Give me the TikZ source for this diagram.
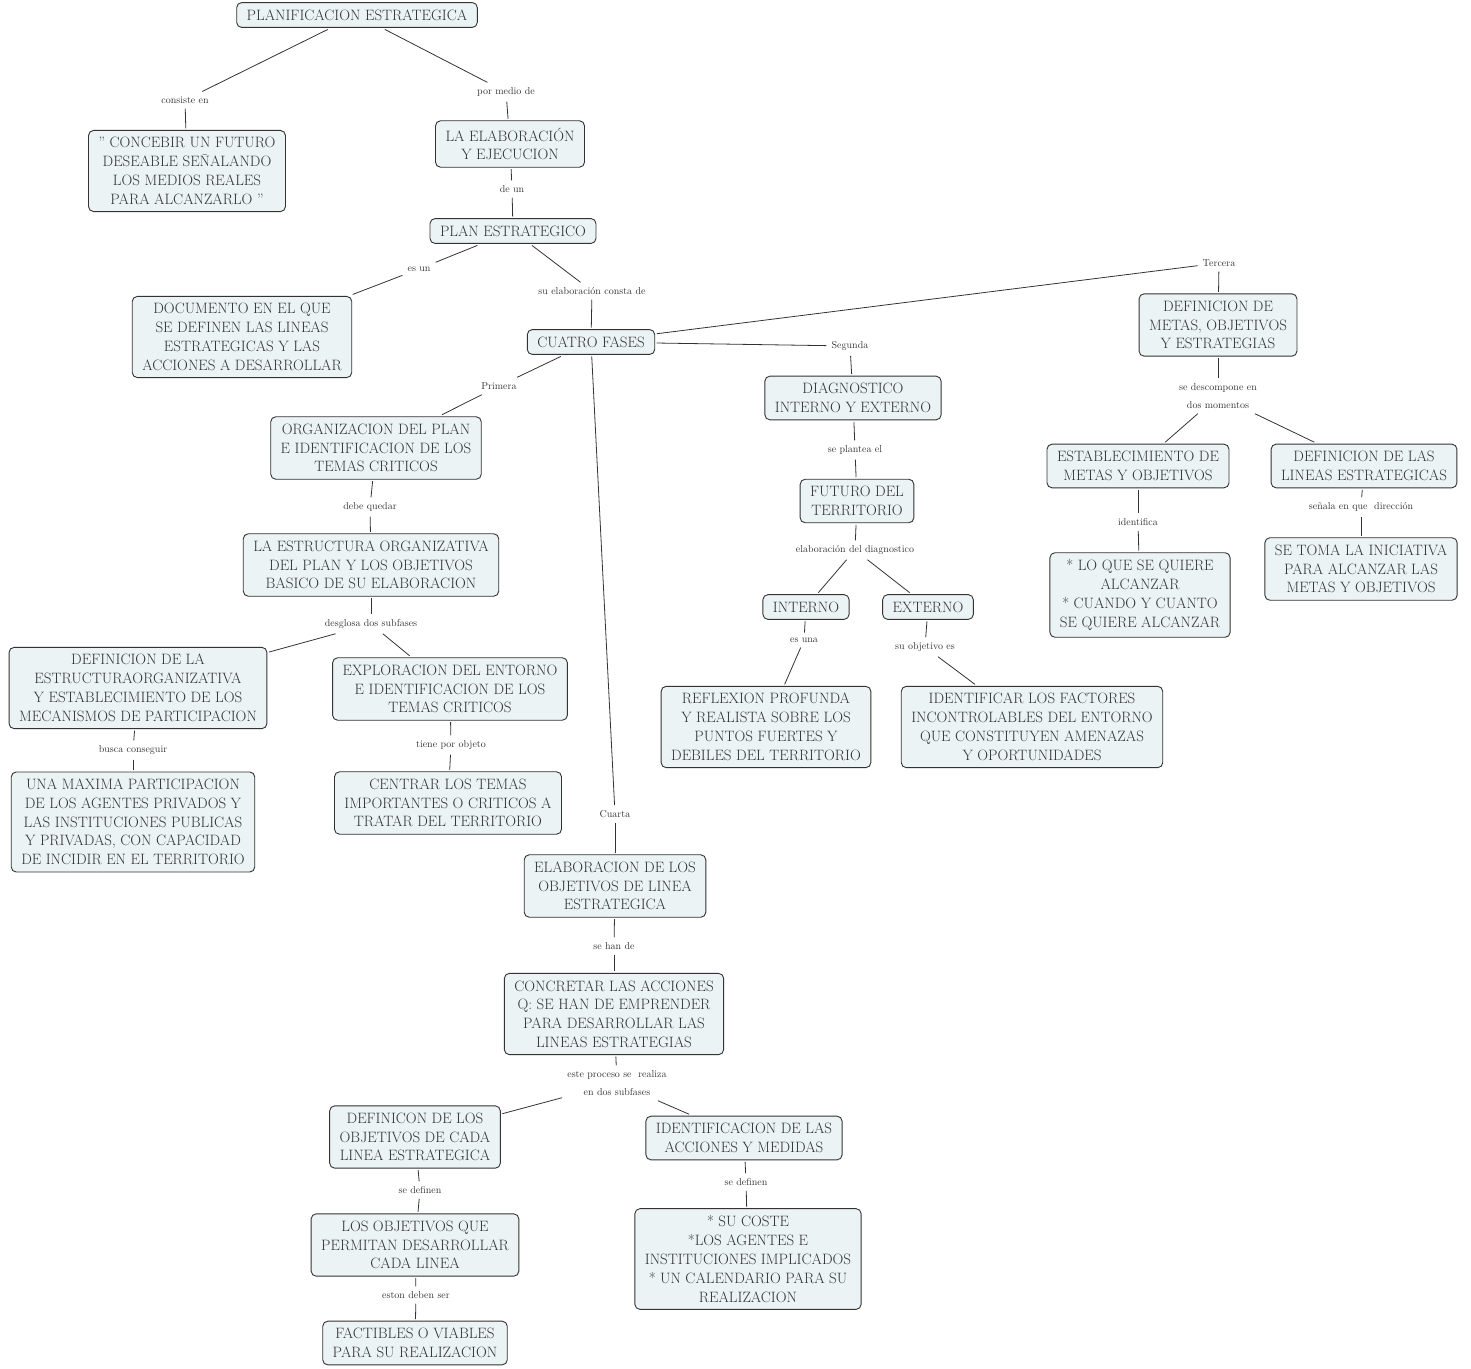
\documentclass[tikz,border=0pt]{standalone}
\usepackage{xcolor}
\definecolor{boxfill}{HTML}{ECF3F5}
\definecolor{ink}{HTML}{333333}
\begin{document}
\begin{tikzpicture}[x=1pt,y=-1pt,
    concept/.style={draw=ink, fill=boxfill, rounded corners=5pt, line width=0.9pt,
      align=center, text=ink, font=\fontsize{15}{18.8}\selectfont,
      inner xsep=10pt, inner ysep=7pt, outer sep=2pt},
    linkword/.style={text=ink, font=\fontsize{10}{18}\selectfont, align=center, inner sep=5pt},
    link/.style={draw=ink, line width=0.8pt}]
  \useasboundingbox (0,0) rectangle (1471,1368);
  % Top
  \node[concept] (pe) at (357,15) {PLANIFICACION ESTRATEGICA};
  \node[linkword] (lcons) at (185,100) {consiste en};
  \node[concept] (concebir) at (187,171) {" CONCEBIR UN FUTURO\\DESEABLE SEÑALANDO\\LOS MEDIOS REALES\\PARA ALCANZARLO "};
  \node[linkword] (lmedio) at (506,92) {por\ medio de};
  \node[concept] (elab) at (510,144) {LA ELABORACIÓN\\Y EJECUCION};
  \node[linkword] (ldeun) at (512,189) {de un};
  \node[concept] (plan) at (513,231) {PLAN ESTRATEGICO};
  \node[linkword] (lesun) at (419,269) {es un};
  \node[concept] (doc) at (242,337) {DOCUMENTO EN EL QUE\\SE DEFINEN LAS LINEAS\\ESTRATEGICAS Y LAS\\ACCIONES A DESARROLLAR};
  \node[linkword] (lconsta) at (592,291) {su elaboración consta de};
  \node[concept] (cuatro) at (591,342) {CUATRO FASES};
  % Primera fase
  \node[linkword] (lprim) at (499,386) {Primera};
  \node[concept] (org) at (376,448) {ORGANIZACION DEL PLAN\\E IDENTIFICACION DE LOS\\TEMAS CRITICOS};
  \node[linkword] (lquedar) at (370,507) {debe quedar};
  \node[concept] (estr) at (371,565) {LA ESTRUCTURA ORGANIZATIVA\\DEL PLAN Y LOS OBJETIVOS\\BASICO DE SU ELABORACION};
  \node[linkword] (ldesgl) at (371,624) {desglosa dos subfases};
  \node[concept] (defest) at (138,688) {DEFINICION DE LA\\ESTRUCTURAORGANIZATIVA\\Y ESTABLECIMIENTO DE LOS\\MECANISMOS DE PARTICIPACION};
  \node[concept] (explor) at (450,689) {EXPLORACION DEL ENTORNO\\E IDENTIFICACION DE LOS\\TEMAS CRITICOS};
  \node[linkword] (lbusca) at (133,750) {busca conseguir};
  \node[concept] (maxima) at (133,822) {UNA MAXIMA PARTICIPACION\\DE LOS AGENTES PRIVADOS Y\\LAS INSTITUCIONES PUBLICAS\\Y PRIVADAS, CON CAPACIDAD\\DE INCIDIR EN EL TERRITORIO};
  \node[linkword] (ltiene) at (451,745) {tiene por objeto};
  \node[concept] (centrar) at (448,803) {CENTRAR LOS TEMAS\\IMPORTANTES O CRITICOS A\\TRATAR DEL TERRITORIO};
  % Segunda fase
  \node[linkword] (lseg) at (850,346) {Segunda};
  \node[concept] (diag) at (853,398) {DIAGNOSTICO\\INTERNO Y EXTERNO};
  \node[linkword] (lplantea) at (855,450) {se plantea el};
  \node[concept] (futuro) at (857,501) {FUTURO DEL\\TERRITORIO};
  \node[linkword] (ldiag) at (855,550) {elaboración del diagnostico};
  \node[concept] (interno) at (806,607) {INTERNO};
  \node[concept] (externo) at (928,607) {EXTERNO};
  \node[linkword] (lesuna) at (804,640) {es una};
  \node[linkword] (lobjet) at (925,647) {su objetivo es};
  \node[concept] (reflex) at (766,727) {REFLEXION PROFUNDA\\Y REALISTA SOBRE LOS\\PUNTOS FUERTES Y\\DEBILES DEL TERRITORIO};
  \node[concept] (identif) at (1032,727) {IDENTIFICAR LOS FACTORES\\INCONTROLABLES DEL ENTORNO\\QUE CONSTITUYEN AMENAZAS\\Y OPORTUNIDADES};
  % Tercera fase
  \node[linkword] (lterc) at (1219,263) {Tercera};
  \node[concept] (metas) at (1218,325) {DEFINICION DE\\METAS, OBJETIVOS\\Y ESTRATEGIAS};
  \node[linkword] (ldescomp) at (1218,396) {se descompone en\\dos momentos};
  \node[concept] (establ) at (1138,466) {ESTABLECIMIENTO DE\\METAS Y OBJETIVOS};
  \node[concept] (deflin) at (1364,466) {DEFINICION DE LAS\\LINEAS ESTRATEGICAS};
  \node[linkword] (lidentif) at (1138,522) {identifica};
  \node[concept] (loque) at (1140,595) {* LO QUE SE QUIERE\\ALCANZAR\\* CUANDO Y CUANTO\\SE QUIERE\ ALCANZAR};
  \node[linkword] (lsenala) at (1361,507) {señala en que\ \ dirección};
  \node[concept] (setoma) at (1361,569) {SE TOMA LA INICIATIVA\\PARA ALCANZAR LAS\\METAS Y OBJETIVOS};
  % Cuarta fase
  \node[linkword] (lcuar) at (615,814) {Cuarta};
  \node[concept] (elabobj) at (615,886) {ELABORACION DE LOS\\OBJETIVOS DE LINEA\\ESTRATEGICA};
  \node[linkword] (lhan) at (614,946) {se han de};
  \node[concept] (concretar) at (614,1014) {CONCRETAR LAS ACCIONES\\Q: SE HAN DE EMPRENDER\\PARA DESARROLLAR LAS\\LINEAS ESTRATEGIAS};
  \node[linkword] (lproceso) at (617,1083) {este proceso se\ \ realiza\\en dos subfases};
  \node[concept] (definicon) at (415,1137) {DEFINICON DE LOS\\OBJETIVOS DE CADA\\LINEA ESTRATEGICA};
  \node[concept] (identacc) at (744,1138) {IDENTIFICACION DE LAS\\ACCIONES Y MEDIDAS};
  \node[linkword] (ldefinen) at (420,1190) {se definen};
  \node[concept] (losobj) at (415,1245) {LOS OBJETIVOS QUE\\PERMITAN DESARROLLAR\\CADA LINEA};
  \node[linkword] (leston) at (416,1295) {eston deben ser};
  \node[concept] (factibles) at (415,1343) {FACTIBLES O VIABLES\\PARA SU REALIZACION};
  \node[linkword] (ldefinenb) at (746,1182) {se definen};
  \node[concept] (sucoste) at (748,1259) {* SU COSTE\\*LOS AGENTES E\\INSTITUCIONES IMPLICADOS\\* UN CALENDARIO PARA SU\\REALIZACION};
  % Connectors
  \draw[link] (pe) -- (lcons);  \draw[link] (lcons) -- (concebir);
  \draw[link] (pe) -- (lmedio); \draw[link] (lmedio) -- (elab);
  \draw[link] (elab) -- (ldeun); \draw[link] (ldeun) -- (plan);
  \draw[link] (plan) -- (lesun); \draw[link] (lesun) -- (doc);
  \draw[link] (plan) -- (lconsta); \draw[link] (lconsta) -- (cuatro);
  \draw[link] (cuatro) -- (lprim); \draw[link] (lprim) -- (org);
  \draw[link] (cuatro) -- (lseg); \draw[link] (lseg) -- (diag);
  \draw[link] (cuatro) -- (lterc); \draw[link] (lterc) -- (metas);
  \draw[link] (cuatro) -- (lcuar); \draw[link] (lcuar) -- (elabobj);
  \draw[link] (org) -- (lquedar); \draw[link] (lquedar) -- (estr);
  \draw[link] (estr) -- (ldesgl); \draw[link] (ldesgl) -- (defest); \draw[link] (ldesgl) -- (explor);
  \draw[link] (defest) -- (lbusca); \draw[link] (lbusca) -- (maxima);
  \draw[link] (explor) -- (ltiene); \draw[link] (ltiene) -- (centrar);
  \draw[link] (diag) -- (lplantea); \draw[link] (lplantea) -- (futuro);
  \draw[link] (futuro) -- (ldiag); \draw[link] (ldiag) -- (interno); \draw[link] (ldiag) -- (externo);
  \draw[link] (interno) -- (lesuna); \draw[link] (lesuna) -- (reflex);
  \draw[link] (externo) -- (lobjet); \draw[link] (lobjet) -- (identif);
  \draw[link] (metas) -- (ldescomp); \draw[link] (ldescomp) -- (establ); \draw[link] (ldescomp) -- (deflin);
  \draw[link] (establ) -- (lidentif); \draw[link] (lidentif) -- (loque);
  \draw[link] (deflin) -- (lsenala); \draw[link] (lsenala) -- (setoma);
  \draw[link] (elabobj) -- (lhan); \draw[link] (lhan) -- (concretar);
  \draw[link] (concretar) -- (lproceso); \draw[link] (lproceso) -- (definicon); \draw[link] (lproceso) -- (identacc);
  \draw[link] (definicon) -- (ldefinen); \draw[link] (ldefinen) -- (losobj);
  \draw[link] (losobj) -- (leston); \draw[link] (leston) -- (factibles);
  \draw[link] (identacc) -- (ldefinenb); \draw[link] (ldefinenb) -- (sucoste);
\end{tikzpicture}
\end{document}
